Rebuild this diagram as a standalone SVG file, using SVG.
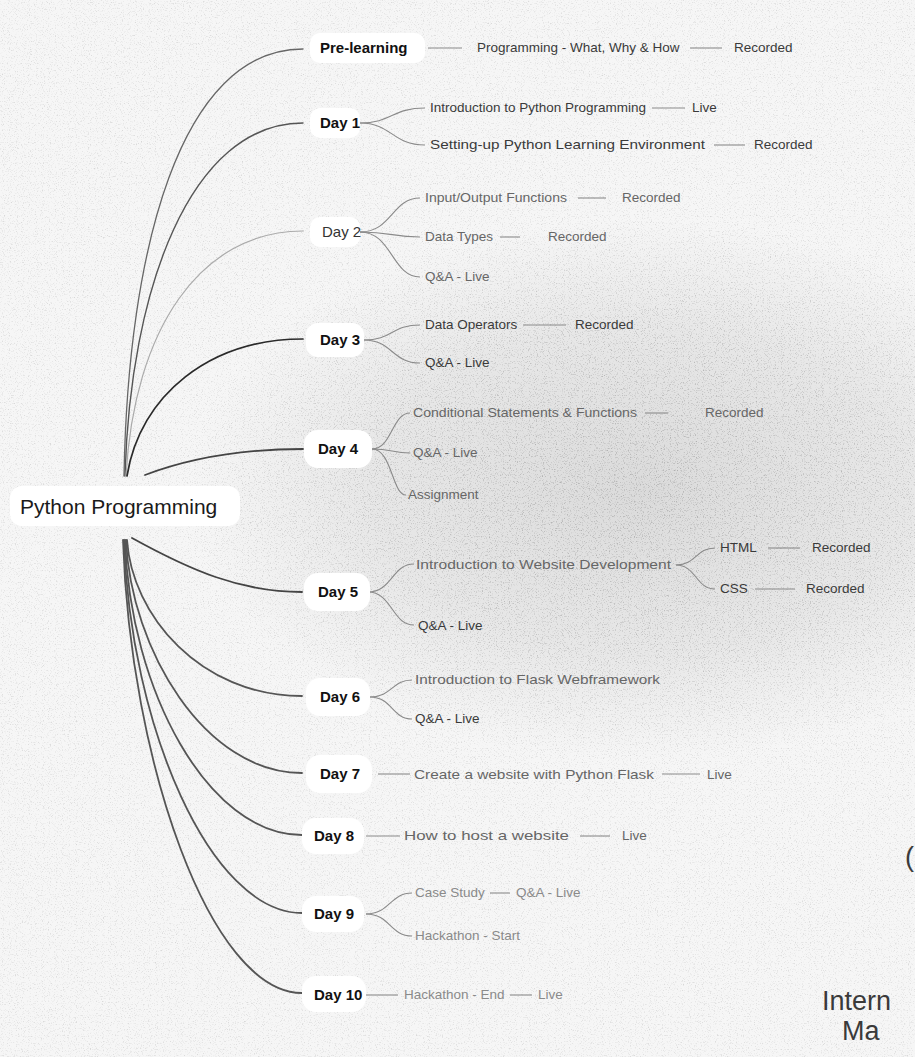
<svg xmlns="http://www.w3.org/2000/svg" width="915" height="1057" viewBox="0 0 915 1057">
<defs>
<filter id="grain" x="0" y="0" width="100%" height="100%">
<feTurbulence type="fractalNoise" baseFrequency="0.85" numOctaves="2" seed="7"/>
<feColorMatrix type="matrix" values="0 0 0 0 0.35  0 0 0 0 0.35  0 0 0 0 0.35  3.2 0 0 0 -1.75"/>
</filter>
<radialGradient id="bandG" cx="640" cy="490" r="360" gradientUnits="userSpaceOnUse" gradientTransform="translate(640 490) scale(1.25 0.75) translate(-640 -490)">
<stop offset="0" stop-color="#c4c4c4" stop-opacity="0.55"/>
<stop offset="0.6" stop-color="#cccccc" stop-opacity="0.35"/>
<stop offset="1" stop-color="#d0d0d0" stop-opacity="0"/>
</radialGradient>
<radialGradient id="bandM" cx="640" cy="490" r="360" gradientUnits="userSpaceOnUse" gradientTransform="translate(640 490) scale(1.25 0.75) translate(-640 -490)">
<stop offset="0" stop-color="#fff"/>
<stop offset="0.6" stop-color="#999"/>
<stop offset="1" stop-color="#000"/>
</radialGradient>
<mask id="bandMask"><rect x="0" y="0" width="915" height="1057" fill="url(#bandM)"/></mask>
<style>
.root{font-family:"Liberation Sans",Arial,sans-serif;font-size:21px;fill:#1a1a1a}
.day{font-family:"Liberation Sans",Arial,sans-serif;font-size:15px;font-weight:bold;fill:#111}
.day.light{font-weight:normal;fill:#333}
.t{font-family:"Liberation Sans",Arial,sans-serif;font-size:13.5px;fill:#3a3a3a}
.t.l{fill:#666}
.t.xl{fill:#8a8a8a}
.pill{fill:#fff}
.main path{fill:none;stroke-linecap:round}
.br path,.br line{fill:none;stroke:#8a8a8a;stroke-width:1.1}
.edge{font-family:"Liberation Sans",Arial,sans-serif;font-size:27px;fill:#3a3a3a}
</style>
</defs>
<rect x="0" y="0" width="915" height="1057" fill="#f6f6f6"/>
<rect x="0" y="0" width="915" height="1057" filter="url(#grain)" opacity="0.35"/>
<rect x="0" y="0" width="915" height="1057" fill="url(#bandG)"/>
<g mask="url(#bandMask)"><rect x="0" y="0" width="915" height="1057" filter="url(#grain)" opacity="0.75"/></g>

<g id="connectors">
<g class="main">
<path d="M124 476 C128 250 180 49 303 49" stroke="#666" stroke-width="1.3"/>
<path d="M125 476 C130 290 190 123 303 123" stroke="#555" stroke-width="1.4"/>
<path d="M126 476 C134 330 200 231 303 231" stroke="#aaa" stroke-width="1.2"/>
<path d="M127 476 C140 395 210 339 303 339" stroke="#2a2a2a" stroke-width="1.7"/>
<path d="M145 475 C190 458 240 449 303 449" stroke="#444" stroke-width="1.8"/>
<path d="M132 538 C190 570 240 592 302 592" stroke="#444" stroke-width="1.8"/>
<path d="M127 540 C132 615 200 696 302 696" stroke="#555" stroke-width="1.8"/>
<path d="M126 540 C131 650 205 773 302 773" stroke="#555" stroke-width="1.8"/>
<path d="M125 540 C130 690 208 835 302 835" stroke="#555" stroke-width="1.8"/>
<path d="M124 540 C130 725 210 913 302 913" stroke="#555" stroke-width="1.8"/>
<path d="M123 540 C130 760 210 993 302 993" stroke="#555" stroke-width="1.8"/>
</g>
<g class="br">
<line x1="428" y1="48" x2="462" y2="48"/>
<line x1="690" y1="48" x2="722" y2="48"/>
<path d="M360 123 C392 123 392 108 425 108"/>
<path d="M360 123 C392 123 392 145 425 145"/>
<line x1="652" y1="108" x2="685" y2="108"/>
<line x1="714" y1="145" x2="745" y2="145"/>
<path d="M360 232 C392 232 392 198 420 198" stroke="#b0b0b0"/>
<path d="M360 232 C392 232 392 237 420 237" stroke="#b0b0b0"/>
<path d="M360 232 C392 232 392 277 420 277" stroke="#b0b0b0"/>
<line x1="578" y1="198" x2="606" y2="198"/>
<line x1="500" y1="237" x2="520" y2="237"/>
<path d="M364 340 C392 340 392 325 420 325" stroke="#555"/>
<path d="M364 340 C392 340 392 363 420 363" stroke="#555"/>
<line x1="523" y1="325" x2="566" y2="325"/>
<path d="M372 449 C392 449 392 413 410 413"/>
<path d="M372 449 C392 449 392 453 410 453"/>
<path d="M372 449 C392 449 392 495 406 495"/>
<line x1="645" y1="413" x2="668" y2="413"/>
<path d="M368 592 C392 592 392 564 414 564" stroke="#555"/>
<path d="M368 592 C392 592 392 625 414 625" stroke="#555"/>
<path d="M676 565 C696 565 696 548 715 548"/>
<path d="M676 565 C696 565 696 589 715 589"/>
<line x1="768" y1="548" x2="800" y2="548"/>
<line x1="755" y1="589" x2="795" y2="589"/>
<path d="M370 697 C392 697 392 680 412 680"/>
<path d="M370 697 C392 697 392 719 412 719"/>
<line x1="378" y1="774" x2="410" y2="774" stroke="#555"/>
<line x1="662" y1="774" x2="700" y2="774"/>
<line x1="366" y1="836" x2="400" y2="836"/>
<line x1="580" y1="836" x2="610" y2="836"/>
<path d="M366 914 C390 914 390 893 412 893" stroke="#aaa"/>
<path d="M366 914 C390 914 390 936 412 936" stroke="#aaa"/>
<line x1="490" y1="893" x2="510" y2="893" stroke="#aaa"/>
<line x1="366" y1="995" x2="398" y2="995" stroke="#aaa"/>
<line x1="510" y1="995" x2="532" y2="995" stroke="#aaa"/>
</g>
</g>

<g id="root"><rect class="pill" x="10" y="486" width="230" height="40" rx="12"/><text class="root" x="20" y="514">Python Programming</text></g>

<g id="pre"><rect class="pill" x="310" y="33" width="115" height="30" rx="10"/><text class="day" x="320" y="53">Pre-learning</text>
<text class="t" x="477" y="52">Programming - What, Why &amp; How</text><text class="t" x="734" y="52">Recorded</text></g>

<g id="day1"><rect class="pill" x="310" y="108" width="50" height="30" rx="10"/><text class="day" x="320" y="128">Day 1</text>
<text class="t" x="430" y="112">Introduction to Python Programming</text><text class="t" x="692" y="112">Live</text>
<text class="t" x="430" y="149" textLength="275" lengthAdjust="spacingAndGlyphs">Setting-up Python Learning Environment</text><text class="t" x="754" y="149">Recorded</text></g>

<g id="day2"><rect class="pill" x="310" y="217" width="50" height="30" rx="10"/><text class="day light" x="322" y="237">Day 2</text>
<text class="t l" x="425" y="202" textLength="142" lengthAdjust="spacingAndGlyphs">Input/Output Functions</text><text class="t l" x="622" y="202">Recorded</text>
<text class="t l" x="425" y="241">Data Types</text><text class="t l" x="548" y="241">Recorded</text>
<text class="t l" x="425" y="281">Q&amp;A - Live</text></g>

<g id="day3"><rect class="pill" x="306" y="323" width="58" height="34" rx="12"/><text class="day" x="320" y="345">Day 3</text>
<text class="t" x="425" y="329">Data Operators</text><text class="t" x="575" y="329">Recorded</text>
<text class="t" x="425" y="367">Q&amp;A - Live</text></g>

<g id="day4"><rect class="pill" x="304" y="430" width="68" height="38" rx="14"/><text class="day" x="318" y="454">Day 4</text>
<text class="t l" x="413" y="417" textLength="224" lengthAdjust="spacingAndGlyphs">Conditional Statements &amp; Functions</text><text class="t l" x="705" y="417">Recorded</text>
<text class="t l" x="413" y="457">Q&amp;A - Live</text>
<text class="t l" x="408" y="499">Assignment</text></g>

<g id="day5"><rect class="pill" x="304" y="573" width="66" height="38" rx="14"/><text class="day" x="318" y="597">Day 5</text>
<text class="t l" x="416" y="569" textLength="255" lengthAdjust="spacingAndGlyphs">Introduction to Website Development</text>
<text class="t" x="720" y="552">HTML</text><text class="t" x="812" y="552">Recorded</text>
<text class="t" x="720" y="593">CSS</text><text class="t" x="806" y="593">Recorded</text>
<text class="t" x="418" y="630">Q&amp;A - Live</text></g>

<g id="day6"><rect class="pill" x="306" y="678" width="64" height="38" rx="14"/><text class="day" x="320" y="702">Day 6</text>
<text class="t l" x="415" y="684" textLength="245" lengthAdjust="spacingAndGlyphs">Introduction to Flask Webframework</text>
<text class="t" x="415" y="723">Q&amp;A - Live</text></g>

<g id="day7"><rect class="pill" x="306" y="755" width="66" height="38" rx="14"/><text class="day" x="320" y="779">Day 7</text>
<text class="t l" x="414" y="779" textLength="240" lengthAdjust="spacingAndGlyphs">Create a website with Python Flask</text><text class="t l" x="707" y="779">Live</text></g>

<g id="day8"><rect class="pill" x="302" y="818" width="62" height="36" rx="14"/><text class="day" x="314" y="841">Day 8</text>
<text class="t l" x="404" y="840" textLength="165" lengthAdjust="spacingAndGlyphs">How to host a website</text><text class="t l" x="622" y="840">Live</text></g>

<g id="day9"><rect class="pill" x="302" y="896" width="62" height="36" rx="14"/><text class="day" x="314" y="919">Day 9</text>
<text class="t xl" x="415" y="897">Case Study</text><text class="t xl" x="516" y="897">Q&amp;A - Live</text>
<text class="t xl" x="415" y="940">Hackathon - Start</text></g>

<g id="day10"><rect class="pill" x="302" y="976" width="64" height="36" rx="14"/><text class="day" x="314" y="1000">Day 10</text>
<text class="t xl" x="404" y="999">Hackathon - End</text><text class="t xl" x="538" y="999">Live</text></g>

<g id="edge-text"><text class="edge" x="905" y="866">(</text><text class="edge" x="822" y="1010">Intern</text><text class="edge" x="842" y="1040">Ma</text></g>
</svg>
